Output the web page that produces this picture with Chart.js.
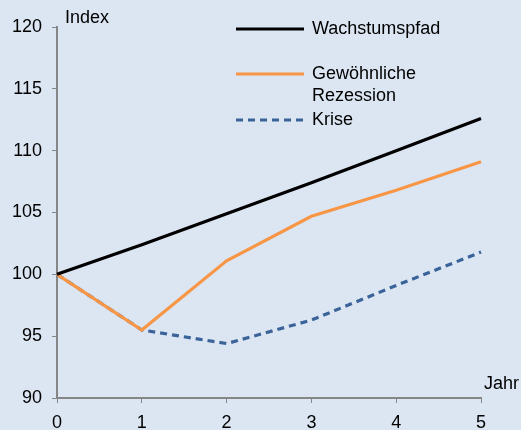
<!DOCTYPE html>
<html>
<head>
<meta charset="utf-8">
<script src="https://cdn.jsdelivr.net/npm/chart.js@4/dist/chart.umd.min.js"></script>
<style>
  html, body { margin: 0; padding: 0; background: #dce6f2; }
  #wrap { width: 521px; height: 430px; position: relative; }
</style>
</head>
<body>
<div id="wrap"><canvas id="chart" width="521" height="430"></canvas></div>
<script>
const years = ['0', '1', '2', '3', '4', '5'];
const wachstum = [100, 102.4, 104.9, 107.4, 110.0, 112.6];
const rezession = [100, 95.5, 101.1, 104.7, 106.8, 109.1];
const krise = [100, 95.5, 94.4, 96.3, 99.1, 101.8];
const yTicks = [90, 95, 100, 105, 110, 115, 120];

const FONT = '"Liberation Sans", Arial, sans-serif';
const AXIS_GRAY = '#868686';

// legend + axis titles drawn on the canvas
const extrasPlugin = {
    id: 'extras',
    afterDraw(chart) {
        const ctx = chart.ctx;
        ctx.save();
        ctx.font = '18px ' + FONT;
        ctx.fillStyle = '#000';
        ctx.textBaseline = 'middle';
        ctx.textAlign = 'left';
        ctx.fillText('Index', 65, 18);
        ctx.fillText('Jahr', 484, 384);

        const rows = [
            { lines: ['Wachstumspfad'], y: 29 },
            { lines: ['Gewöhnliche', 'Rezession'], y: 74 },
            { lines: ['Krise'], y: 120 }
        ];
        chart.data.datasets.forEach((ds, i) => {
            const r = rows[i];
            ctx.beginPath();
            ctx.strokeStyle = ds.borderColor;
            ctx.lineWidth = 3;
            ctx.setLineDash(ds.borderDash || []);
            ctx.moveTo(236, r.y);
            ctx.lineTo(304, r.y);
            ctx.stroke();
            ctx.setLineDash([]);
            r.lines.forEach((t, k) => {
                ctx.fillText(t, 312, r.y + k * 22);
            });
        });
        ctx.restore();
    }
};

new Chart(document.getElementById('chart'), {
    type: 'line',
    data: {
        labels: years,
        datasets: [
            {
                label: 'Wachstumspfad',
                data: wachstum,
                borderColor: '#000000',
                borderWidth: 3.2,
                pointRadius: 0,
                tension: 0
            },
            {
                label: 'Gewöhnliche Rezession',
                data: rezession,
                borderColor: '#f79646',
                borderWidth: 3.2,
                pointRadius: 0,
                tension: 0
            },
            {
                label: 'Krise',
                data: krise,
                borderColor: '#3a6399',
                borderWidth: 3.2,
                borderDash: [7, 5],
                pointRadius: 0,
                tension: 0
            }
        ]
    },
    options: {
        responsive: false,
        animation: false,
        layout: { padding: { top: 27, right: 40, left: 0, bottom: 0 } },
        scales: {
            x: {
                offset: false,
                grid: {
                    drawOnChartArea: false,
                    drawTicks: true,
                    tickLength: 5,
                    color: AXIS_GRAY
                },
                border: { color: AXIS_GRAY, width: 2 },
                ticks: {
                    color: '#000',
                    font: { family: FONT, size: 18 },
                    padding: 9,
                    maxRotation: 0
                },
                afterFit(scale) { scale.height = 32; }
            },
            y: {
                min: 90,
                max: 120,
                afterBuildTicks(scale) {
                    scale.ticks = yTicks.map(v => ({ value: v }));
                },
                grid: {
                    drawOnChartArea: false,
                    drawTicks: true,
                    tickLength: 5,
                    color: AXIS_GRAY
                },
                border: { color: AXIS_GRAY, width: 2 },
                ticks: {
                    color: '#000',
                    font: { family: FONT, size: 18 },
                    padding: 10
                },
                afterFit(scale) { scale.width = 57; }
            }
        },
        plugins: {
            legend: { display: false },
            tooltip: { enabled: false }
        }
    },
    plugins: [extrasPlugin]
});
</script>
</body>
</html>
